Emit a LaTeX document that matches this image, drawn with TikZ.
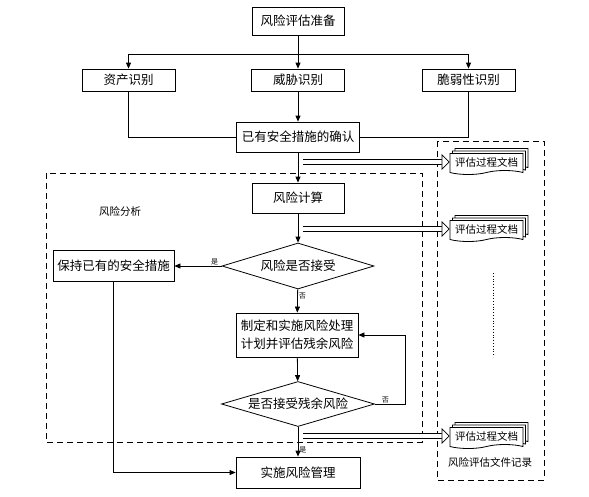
\documentclass[tikz,border=0pt]{standalone}
\usepackage{fontspec}
\newfontfamily\cjk{Noto Sans CJK SC}
\usetikzlibrary{shapes.geometric,shapes.symbols,shadows,arrows.meta}
\tikzset{every path/.style={black,line width=0.8pt},
  box/.style={draw, rectangle, inner sep=1pt, font=\cjk\fontsize{12.5}{18}\selectfont, align=center},
  choice/.style={draw, diamond, aspect=3.4, inner sep=0pt, font=\cjk\fontsize{12.5}{15}\selectfont},
  doc/.style={draw, fill=white, tape, tape bend top=none, tape bend height=4pt,
    minimum width=73pt, minimum height=21pt, inner sep=1pt, font=\cjk\fontsize{10.5}{12}\selectfont,
    double copy shadow={shadow xshift=2.5pt, shadow yshift=2.5pt, draw=black, fill=white}},
  arr/.style={-{Triangle[length=6pt,width=5pt]}},
  hollow/.style={double, double distance=4.5pt, line width=0.7pt, shorten <=5pt,
    -{Triangle[length=8pt,width=16pt,fill=white]}},
  small/.style={font=\cjk\fontsize{7}{8}\selectfont, inner sep=1pt},
  note/.style={font=\cjk\fontsize{10.5}{12}\selectfont, inner sep=1pt},
  region/.style={dash pattern=on 6pt off 4pt, line width=0.9pt}}

\begin{document}
\begin{tikzpicture}[x=1pt, y=-1pt]
  \useasboundingbox (0,0) rectangle (589,496);
  % regions
  \draw[region] (46,173) rectangle (422,442);
  \draw[region] (437,141) rectangle (544,480);
  \node[note] (analysis) at (120,211) {风险分析};
  \node[note] (records) at (490,462) {风险评估文件记录};
  \draw[dotted, line width=1pt] (493,273) -- (493,357);

  % boxes
  \node[box, minimum width=92pt, minimum height=28pt] (prep) at (298,21) {风险评估准备};
  \node[box, minimum width=93pt, minimum height=22pt] (asset) at (128.5,80) {资产识别};
  \node[box, minimum width=93pt, minimum height=22pt] (threat) at (298,80) {威胁识别};
  \node[box, minimum width=93pt, minimum height=22pt] (vuln) at (468.5,80) {脆弱性识别};
  \node[box, minimum width=123pt, minimum height=30pt] (confirm) at (298,137) {已有安全措施的确认};
  \node[box, minimum width=92pt, minimum height=30pt] (calc) at (298,198) {风险计算};
  \node[choice, minimum width=152pt, minimum height=46pt] (accept) at (298,266) {风险是否接受};
  \node[box, minimum width=121pt, minimum height=31pt] (keep) at (113.5,266) {保持已有的安全措施};
  \node[box, minimum width=122pt, minimum height=44pt] (plan) at (297,335) {制定和实施风险处理\\计划并评估残余风险};
  \node[choice, minimum width=153pt, minimum height=45pt] (residual) at (298,404) {是否接受残余风险};
  \node[box, minimum width=124pt, minimum height=31pt] (impl) at (298,472.5) {实施风险管理};

  % documents
  \node[doc] (doc1) at (486.5,162) {评估过程文档};
  \node[doc] (doc2) at (486.5,229) {评估过程文档};
  \node[doc] (doc3) at (486.5,436) {评估过程文档};

  % connectors
  \coordinate (split) at (298,54);
  \coordinate (loop) at (405,404);
  \draw (asset.north |- split) -- (vuln.north |- split);
  \draw[arr] (prep) -- (threat);
  \draw[arr] (asset.north |- split) -- (asset.north);
  \draw[arr] (vuln.north |- split) -- (vuln.north);
  \draw (asset) |- (confirm);
  \draw (vuln) |- (confirm);
  \draw[arr] (threat) -- (confirm);
  \draw[arr] (confirm) -- (calc);
  \draw[arr] (calc) -- (accept);
  \draw[arr] (accept) -- node[small, above, pos=0.15] {是} (keep);
  \draw[arr] (accept) -- node[small, right, pos=0.3] {否} (plan);
  \draw[arr] (plan) -- (residual);
  \draw[arr] (residual.east) -- node[small, above, pos=0.35] {否} (loop) |- (plan.east);
  \draw[arr] (residual) -- node[small, right, pos=0.78] {是} (impl);
  \draw[arr] (keep) |- (impl);

  % records
  \draw[hollow] (doc1.west -| calc.north) -- (doc1.west);
  \draw[hollow] (doc2.west -| calc.north) -- (doc2.west);
  \draw[hollow] (doc3.west -| impl.north) -- (doc3.west);
\end{tikzpicture}
\end{document}
